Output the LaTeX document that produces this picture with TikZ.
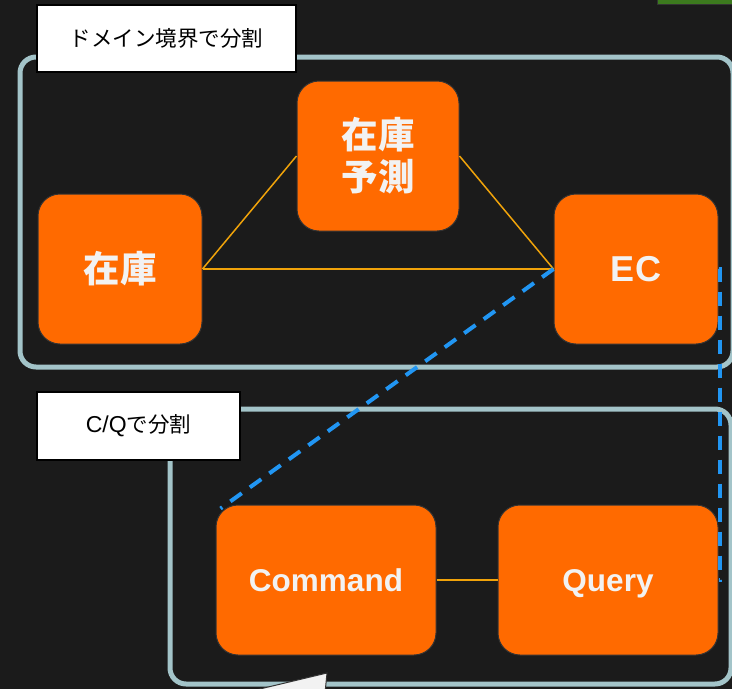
\documentclass[tikz,border=0pt]{standalone}
\usepackage{fontspec}
\setmainfont{Liberation Sans}
\newfontfamily\cjk{Noto Sans CJK JP}
\definecolor{canvas}{HTML}{1B1B1B}
\definecolor{framegray}{HTML}{A3C4C9}
\definecolor{blockorange}{HTML}{FF6A00}
\definecolor{blockedge}{HTML}{333333}
\definecolor{amberline}{HTML}{F0A30A}
\definecolor{flowblue}{HTML}{2196F3}
\definecolor{softwhite}{HTML}{F2F2F2}
\definecolor{leafgreen}{HTML}{3C7A1E}
\begin{document}
\begin{tikzpicture}[x=1pt,y=-1pt,
  groupframe/.style={draw=framegray, line width=5pt, rounded corners=16pt},
  tag/.style={draw=black, line width=2pt, fill=white, text=black, inner sep=0pt,
    font=\cjk\fontsize{21.5}{25}\selectfont},
  block/.style={draw=blockedge, line width=1pt, fill=blockorange, rounded corners=22pt,
    text=softwhite, inner sep=0pt, align=center,
    minimum width=164pt, minimum height=150pt},
  wide/.style={minimum width=220pt},
  jp/.style={font=\cjk\bfseries\fontsize{36.5}{42}\selectfont},
  bigcaps/.style={font=\bfseries\fontsize{36}{42}\selectfont, text height=25.8pt, text depth=0pt},
  midcaps/.style={font=\bfseries\fontsize{31.5}{38}\selectfont, text height=22.6pt, text depth=0pt},
  link/.style={draw=amberline, line width=1.5pt},
  flow/.style={draw=flowblue, line width=4pt, dash pattern=on 14pt off 10pt}]

% canvas
\useasboundingbox (0,0) rectangle (732,689);
\fill[canvas] (0,0) rectangle (732,689);
\clip (0,0) rectangle (732,689);

% group frames
\draw[groupframe] (20,57) rectangle (733,367);
\draw[groupframe] (170,409) rectangle (731,684);

% pieces at the page edges
\filldraw[fill=leafgreen, draw=blockedge, line width=1pt] (657,-3) rectangle (735,4);
\filldraw[fill=softwhite, draw=blockedge, line width=1pt] (243,693) -- (327,673) -- (325,693) -- cycle;

% group labels
\node[tag, minimum width=259pt, minimum height=67pt] (tagdomain) at (166.5,38.5) {ドメイン境界で分割};
\node[tag, minimum width=203pt, minimum height=68pt] (tagcq) at (138.5,426) {{\fontsize{23}{25}\selectfont\rmfamily C/Q}で分割};

% services
\node[block, jp] (stock) at (120,269) {在庫};
\node[block, jp, minimum width=162pt] (forecast) at (378,156) {在庫\\予測};
\node[block, bigcaps] (ec) at (636,269) {EC};
\node[block, wide, midcaps] (cmd) at (326,580) {Command};
\node[block, wide, midcaps] (query) at (608,580) {Query};

% links between services
\draw[link] (stock.east) -- (forecast.west);
\draw[link] (forecast.east) -- (ec.west);
\draw[link] (stock.east) -- (ec.west);
\draw[link] (cmd.east) -- (query.west);

% data flows
\coordinate (cmdtip) at ([shift={(5,4)}]cmd.north west);
\draw[flow] (ec.west) -- (cmdtip);
\draw[flow] (ec.east) -- ++(1.5,0) |- (query.east);
\end{tikzpicture}
\end{document}
